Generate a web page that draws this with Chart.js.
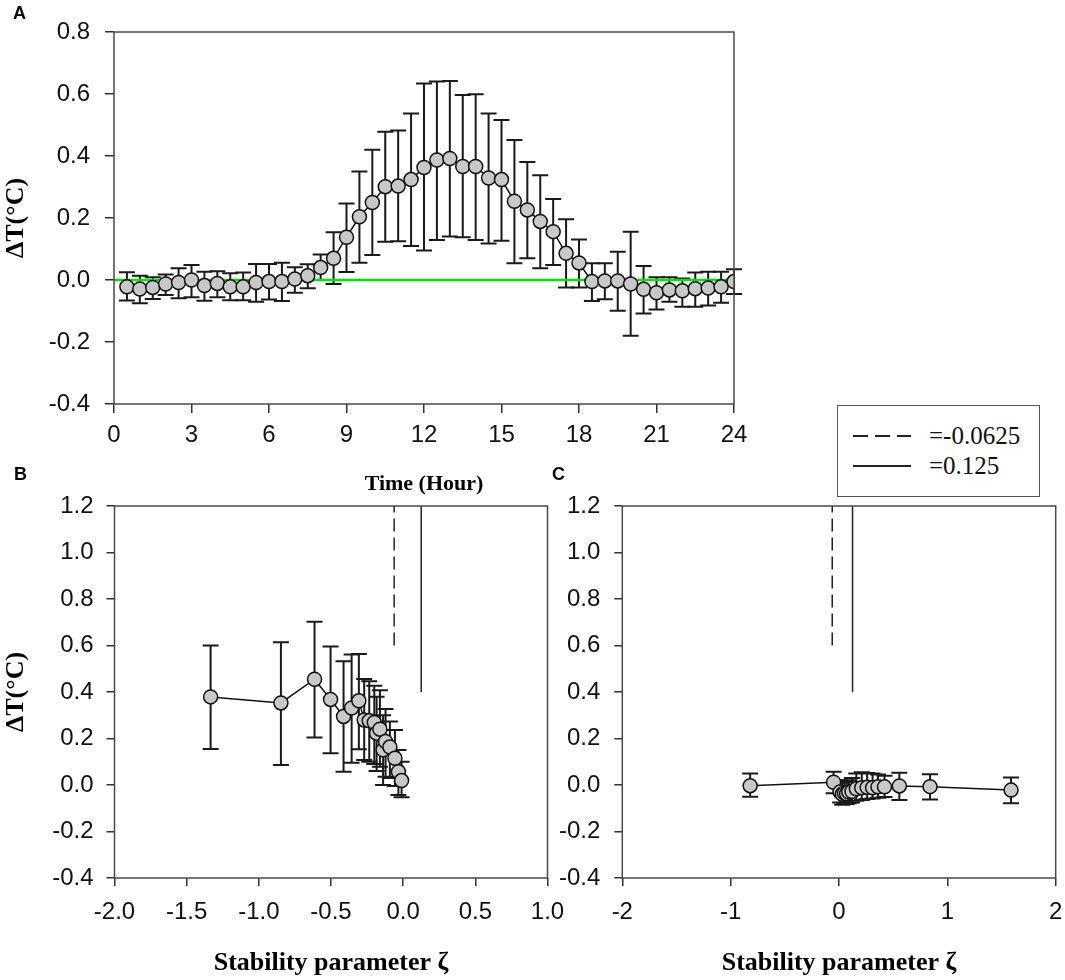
<!DOCTYPE html>
<html>
<head>
<meta charset="utf-8">
<script src="https://cdn.jsdelivr.net/npm/chart.js@4.4.1/dist/chart.umd.min.js"></script>
<style>
  body { margin: 0; background: #fff; }
  #page { position: relative; width: 1065px; height: 980px; overflow: hidden; background: #fff; }
  canvas { position: absolute; }
  #chartA { left: 0; top: 0; width: 760px; height: 500px; }
  #chartB { left: 0; top: 460px; width: 580px; height: 520px; }
  #chartC { left: 560px; top: 460px; width: 505px; height: 520px; }
  .panel { position: absolute; font: bold 18px "Liberation Sans", Arial, sans-serif; line-height: 1; color: #000; }
  #legend { position: absolute; left: 837px; top: 405px; width: 201px; height: 90px; border: 1.5px solid #555; background: #fff; }
  #legend .row { position: absolute; left: 0; height: 30px; width: 100%; }
  #legend .sample { position: absolute; left: 15px; top: 14px; width: 58px; height: 2px; }
  #legend .dash { background: repeating-linear-gradient(to right, #222 0 15px, transparent 15px 22px); }
  #legend .solid { background: #222; }
  #legend .txt { position: absolute; left: 91px; top: 0; font: 25px "Liberation Serif", "Times New Roman", serif; line-height: 30px; color: #111; }
</style>
</head>
<body>
<div id="page">
  <canvas id="chartA" width="760" height="500"></canvas>
  <canvas id="chartB" width="580" height="520"></canvas>
  <canvas id="chartC" width="505" height="520"></canvas>
  <div class="panel" style="left:13px; top:4px;">A</div>
  <div class="panel" style="left:14px; top:465px;">B</div>
  <div class="panel" style="left:552px; top:465px;">C</div>
  <div id="legend">
    <div class="row" style="top:15px;"><span class="sample dash"></span><span class="txt">=-0.0625</span></div>
    <div class="row" style="top:45px;"><span class="sample solid"></span><span class="txt">=0.125</span></div>
  </div>
</div>
<script>
// panel A: diurnal course, half-hourly
const hours = [0.5, 1, 1.5, 2, 2.5, 3, 3.5, 4, 4.5, 5, 5.5, 6, 6.5, 7, 7.5, 8,
  8.5, 9, 9.5, 10, 10.5, 11, 11.5, 12, 12.5, 13, 13.5, 14, 14.5, 15, 15.5, 16,
  16.5, 17, 17.5, 18, 18.5, 19, 19.5, 20, 20.5, 21, 21.5, 22, 22.5, 23, 23.5, 24];
const aMean = [-0.022, -0.029, -0.024, -0.013, -0.008, 0.000, -0.018, -0.011,
  -0.022, -0.022, -0.008, -0.005, -0.005, 0.003, 0.014, 0.040,
  0.070, 0.138, 0.204, 0.250, 0.301, 0.303, 0.324, 0.363,
  0.387, 0.392, 0.366, 0.366, 0.329, 0.324, 0.254, 0.226,
  0.189, 0.156, 0.086, 0.055, -0.005, -0.003, -0.003, -0.013,
  -0.030, -0.041, -0.032, -0.035, -0.028, -0.026, -0.022, -0.005];
const aHigh = [0.025, 0.014, 0.009, 0.018, 0.038, 0.048, 0.027, 0.028,
  0.022, 0.024, 0.052, 0.052, 0.056, 0.041, 0.051, 0.082,
  0.154, 0.247, 0.350, 0.420, 0.478, 0.482, 0.537, 0.634,
  0.640, 0.642, 0.597, 0.599, 0.537, 0.516, 0.452, 0.381,
  0.338, 0.261, 0.196, 0.131, 0.054, 0.054, 0.091, 0.156,
  0.045, 0.009, 0.009, 0.005, 0.024, 0.027, 0.027, 0.035];
const aLow = [-0.066, -0.075, -0.061, -0.048, -0.059, -0.056, -0.067, -0.056,
  -0.065, -0.065, -0.070, -0.063, -0.068, -0.041, -0.027, 0.000,
  -0.013, 0.026, 0.056, 0.081, 0.123, 0.125, 0.110, 0.095,
  0.129, 0.140, 0.138, 0.129, 0.118, 0.127, 0.054, 0.070,
  0.038, 0.048, -0.024, -0.024, -0.068, -0.062, -0.099, -0.180,
  -0.108, -0.095, -0.070, -0.086, -0.086, -0.082, -0.073, -0.045];
const zeroLineX = [0, 24];
const aXTicks = [0, 3, 6, 9, 12, 15, 18, 21, 24];
const aYTicks = [-0.4, -0.2, 0, 0.2, 0.4, 0.6, 0.8];

// panel B: unstable side
const bZeta = [-1.334, -0.847, -0.614, -0.503, -0.413, -0.357, -0.307, -0.270, -0.235,
  -0.200, -0.184, -0.161, -0.139, -0.122, -0.092, -0.057, -0.033, -0.011];
const bMean = [0.379, 0.353, 0.455, 0.368, 0.295, 0.331, 0.362, 0.280, 0.276,
  0.269, 0.223, 0.240, 0.151, 0.187, 0.163, 0.115, 0.057, 0.019];
const bHigh = [0.600, 0.614, 0.702, 0.596, 0.532, 0.561, 0.563, 0.456, 0.446,
  0.427, 0.380, 0.407, 0.300, 0.327, 0.273, 0.237, 0.151, 0.100];
const bLow = [0.155, 0.086, 0.204, 0.137, 0.057, 0.096, 0.154, 0.108, 0.100,
  0.090, 0.060, 0.078, 0.000, 0.036, 0.030, -0.004, -0.043, -0.053];
const bXTicks = [-2.0, -1.5, -1.0, -0.5, 0.0, 0.5, 1.0];

// panel C: stable side
const cZeta = [-0.82, -0.05, 0.01, 0.03, 0.05, 0.07, 0.09, 0.12, 0.16,
  0.21, 0.26, 0.31, 0.36, 0.42, 0.557, 0.84, 1.588];
const cMean = [-0.003, 0.012, -0.030, -0.040, -0.035, -0.038, -0.030, -0.028, -0.016,
  -0.012, -0.010, -0.012, -0.008, -0.008, -0.004, -0.007, -0.022];
const cHigh = [0.050, 0.057, 0.020, 0.010, 0.015, 0.012, 0.020, 0.030, 0.050,
  0.055, 0.052, 0.050, 0.045, 0.040, 0.053, 0.046, 0.032];
const cLow = [-0.050, -0.036, -0.075, -0.085, -0.080, -0.082, -0.078, -0.075, -0.068,
  -0.065, -0.060, -0.058, -0.055, -0.052, -0.065, -0.062, -0.079];
const cXTicks = [-2, -1, 0, 1, 2];

const bcYTicks = [-0.4, -0.2, 0, 0.2, 0.4, 0.6, 0.8, 1.0, 1.2];
const refZeta = [-0.0625, 0.125];
const refFrom = [0.6, 0.4];
const refTo = 1.2;

const tickFont = { family: "'Liberation Sans', Arial, sans-serif", size: 24 };
const serif = "'Liberation Serif', 'Times New Roman', serif";

function pts(xs, ys) {
  return xs.map((x, i) => ({ x: x, y: ys[i] }));
}

const errorBars = {
  id: 'errorBars',
  beforeDatasetsDraw(chart) {
    const ctx = chart.ctx;
    const ys = chart.scales.y;
    chart.data.datasets.forEach((ds, i) => {
      if (!ds.yLow) return;
      const meta = chart.getDatasetMeta(i);
      ctx.save();
      ctx.strokeStyle = '#1a1a1a';
      ctx.lineWidth = 2;
      meta.data.forEach((p, j) => {
        const top = ys.getPixelForValue(ds.yHigh[j]);
        const bot = ys.getPixelForValue(ds.yLow[j]);
        ctx.beginPath();
        ctx.moveTo(p.x, top); ctx.lineTo(p.x, bot);
        ctx.moveTo(p.x - 8, top); ctx.lineTo(p.x + 8, top);
        ctx.moveTo(p.x - 8, bot); ctx.lineTo(p.x + 8, bot);
        ctx.stroke();
      });
      ctx.restore();
    });
  }
};

const frame = {
  id: 'frame',
  afterDraw(chart) {
    const a = chart.chartArea, ctx = chart.ctx;
    ctx.save();
    ctx.strokeStyle = '#4a4a4a';
    ctx.lineWidth = 1.5;
    ctx.strokeRect(a.left, a.top, a.right - a.left, a.bottom - a.top);
    ctx.restore();
  }
};

function xAxis(min, max, ticks, fmt, title, titleSize, h, pad, tl, titlePad) {
  return {
    type: 'linear', min: min, max: max,
    afterBuildTicks: s => { s.ticks = ticks.map(v => ({ value: v })); },
    afterFit: s => { s.height = h; s.paddingLeft = 0; s.paddingRight = 0; },
    border: { display: false },
    grid: { drawOnChartArea: false, drawTicks: true, tickLength: tl, color: '#333', lineWidth: 1.5 },
    ticks: { font: tickFont, color: '#111', padding: pad, maxRotation: 0, autoSkip: false, callback: fmt },
    title: { display: true, text: title, font: { family: serif, size: titleSize, weight: 'bold' },
      color: '#000', padding: { top: 0, bottom: titlePad } }
  };
}

function yAxis(ticks, w, pad, tl, title) {
  return {
    type: 'linear', min: ticks[0], max: ticks[ticks.length - 1],
    afterBuildTicks: s => { s.ticks = ticks.map(v => ({ value: v })); },
    afterFit: s => { s.width = w; s.paddingTop = 0; s.paddingBottom = 0; },
    border: { display: false },
    grid: { drawOnChartArea: false, drawTicks: true, tickLength: tl, color: '#333', lineWidth: 1.5 },
    ticks: { font: tickFont, color: '#111', padding: pad, autoSkip: false, callback: v => v.toFixed(1) },
    title: { display: !!title, text: title, font: { family: serif, size: 26, weight: 'bold' },
      color: '#000', padding: { top: 1, bottom: 0 } }
  };
}

function series(xs, ys, hi, lo) {
  return {
    data: pts(xs, ys), yHigh: hi, yLow: lo,
    showLine: true, borderColor: '#111', borderWidth: 1.5,
    pointRadius: 7, pointBackgroundColor: '#c8c8c8', pointBorderColor: '#111', pointBorderWidth: 1.5,
    order: 0
  };
}

function refLines() {
  return [
    { data: [{ x: refZeta[0], y: refFrom[0] }, { x: refZeta[0], y: refTo }], showLine: true,
      borderColor: '#222', borderWidth: 1.5, borderDash: [13, 6], pointRadius: 0, order: 2 },
    { data: [{ x: refZeta[1], y: refFrom[1] }, { x: refZeta[1], y: refTo }], showLine: true,
      borderColor: '#222', borderWidth: 1.5, pointRadius: 0, order: 2 }
  ];
}

const common = {
  responsive: false, animation: false, devicePixelRatio: 1,
  plugins: { legend: { display: false }, tooltip: { enabled: false } },
  events: []
};

new Chart(document.getElementById('chartA'), {
  type: 'scatter',
  data: {
    datasets: [
      series(hours, aMean, aHigh, aLow),
      { data: pts(zeroLineX, [0, 0]), showLine: true, borderColor: '#00e600', borderWidth: 2.5, pointRadius: 0, order: 1 }
    ]
  },
  options: Object.assign({}, common, {
    layout: { padding: { left: 0, top: 32, right: 26, bottom: 0 } },
    scales: {
      x: xAxis(0, 24, aXTicks, v => String(v), 'Time (Hour)', 22, 96, 8, 9, 2),
      y: yAxis(aYTicks, 114, 15, 9, 'ΔT(°C)')
    }
  }),
  plugins: [errorBars, frame]
});

new Chart(document.getElementById('chartB'), {
  type: 'scatter',
  data: { datasets: [series(bZeta, bMean, bHigh, bLow)].concat(refLines()) },
  options: Object.assign({}, common, {
    layout: { padding: { left: 0, top: 46, right: 32.5, bottom: 0 } },
    scales: {
      x: xAxis(-2, 1, bXTicks, v => v.toFixed(1), 'Stability parameter ζ', 26, 102, 12, 8, 1),
      y: yAxis(bcYTicks, 114.5, 13, 8, 'ΔT(°C)')
    }
  }),
  plugins: [errorBars, frame]
});

new Chart(document.getElementById('chartC'), {
  type: 'scatter',
  data: { datasets: [series(cZeta, cMean, cHigh, cLow)].concat(refLines()) },
  options: Object.assign({}, common, {
    layout: { padding: { left: 0, top: 46, right: 9.3, bottom: 0 } },
    scales: {
      x: xAxis(-2, 2, cXTicks, v => String(v), 'Stability parameter ζ', 26, 102, 12, 8, 1),
      y: yAxis(bcYTicks, 62.3, 14, 8, '')
    }
  }),
  plugins: [errorBars, frame]
});
</script>
</body>
</html>
